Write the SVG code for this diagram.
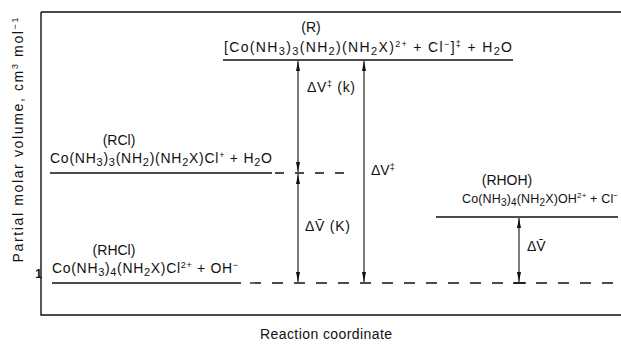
<svg xmlns="http://www.w3.org/2000/svg" width="621" height="344" viewBox="0 0 621 344">
<style>
text{font-family:"Liberation Sans","DejaVu Sans",Arial,sans-serif;font-size:14px;fill:#111}
.lbl{text-anchor:middle}
.ln{stroke:#111;stroke-width:1.4;fill:none}
.dash{stroke:#111;stroke-width:1.3;fill:none;stroke-dasharray:11 11}
.arr{stroke:#111;stroke-width:1.1;fill:none;marker-start:url(#ah);marker-end:url(#ah)}
</style>
<defs>
<marker id="ah" viewBox="0 0 10 4" refX="10" refY="2" markerWidth="10" markerHeight="4" markerUnits="userSpaceOnUse" orient="auto-start-reverse">
<path d="M0,0 L10,2 L0,4 z" fill="#111"/>
</marker>
</defs>
<rect width="621" height="344" fill="#fff"/>
<g id="frame">
<path class="ln" d="M41,12 H621 M41,12 V315 H621"/>
<text x="42" y="278" style="font-weight:bold;font-size:12px;text-anchor:end">1</text>
<text transform="translate(23,140) rotate(-90)" class="lbl" textLength="245" lengthAdjust="spacing">Partial molar volume, cm<tspan dy="-5" font-size="9">3</tspan><tspan dy="5"> mol</tspan><tspan dy="-5" font-size="9">−1</tspan></text>
<text x="260" y="339" textLength="132" lengthAdjust="spacing">Reaction coordinate</text>
</g>
<g id="R">
<path class="ln" d="M223,60 H513"/>
<text x="311" y="32" class="lbl">(R)</text>
<text x="224" y="52" textLength="288" lengthAdjust="spacing">[Co(NH<tspan dy="3" font-size="11">3</tspan><tspan dy="-3">)</tspan><tspan dy="3" font-size="11">3</tspan><tspan dy="-3">(NH</tspan><tspan dy="3" font-size="11">2</tspan><tspan dy="-3">)(NH</tspan><tspan dy="3" font-size="11">2</tspan><tspan dy="-3">X)</tspan><tspan dy="-5" font-size="9">2+</tspan><tspan dy="5"> + Cl</tspan><tspan dy="-5" font-size="9">−</tspan><tspan dy="5">]</tspan><tspan dy="-5" font-size="9">‡</tspan><tspan dy="5"> + H</tspan><tspan dy="3" font-size="11">2</tspan><tspan dy="-3">O</tspan></text>
</g>
<g id="RCl">
<path class="ln" d="M50,173 H272"/>
<text x="119" y="145" class="lbl">(RCl)</text>
<text x="50" y="163" textLength="222" lengthAdjust="spacing">Co(NH<tspan dy="3" font-size="11">3</tspan><tspan dy="-3">)</tspan><tspan dy="3" font-size="11">3</tspan><tspan dy="-3">(NH</tspan><tspan dy="3" font-size="11">2</tspan><tspan dy="-3">)(NH</tspan><tspan dy="3" font-size="11">2</tspan><tspan dy="-3">X)Cl</tspan><tspan dy="-5" font-size="9">+</tspan><tspan dy="5"> + H</tspan><tspan dy="3" font-size="11">2</tspan><tspan dy="-3">O</tspan></text>
</g>
<g id="RHCl">
<path class="ln" d="M52,283 H241"/>
<text x="114" y="255" class="lbl">(RHCl)</text>
<text x="52" y="273" textLength="186" lengthAdjust="spacing">Co(NH<tspan dy="3" font-size="11">3</tspan><tspan dy="-3">)</tspan><tspan dy="3" font-size="11">4</tspan><tspan dy="-3">(NH</tspan><tspan dy="3" font-size="11">2</tspan><tspan dy="-3">X)Cl</tspan><tspan dy="-5" font-size="9">2+</tspan><tspan dy="5"> + OH</tspan><tspan dy="-5" font-size="9">−</tspan></text>
</g>
<g id="RHOH">
<path class="ln" d="M436,217 H618"/>
<text x="507" y="185" class="lbl">(RHOH)</text>
<text x="462" y="203" style="font-size:12.5px" textLength="156" lengthAdjust="spacing">Co(NH<tspan dy="3" font-size="10">3</tspan><tspan dy="-3">)</tspan><tspan dy="3" font-size="10">4</tspan><tspan dy="-3">(NH</tspan><tspan dy="3" font-size="10">2</tspan><tspan dy="-3">X)OH</tspan><tspan dy="-5" font-size="8">2+</tspan><tspan dy="5"> + Cl</tspan><tspan dy="-5" font-size="8">−</tspan></text>
</g>
<g id="connectors">
<path class="dash" d="M275,173 H345" style="stroke-dasharray:9 11"/>
<path class="dash" d="M250,283 H615"/>
<path class="ln" d="M513,283 H526"/>
<path class="arr" d="M298,61 V172"/>
<path class="arr" d="M298,174 V282"/>
<path class="arr" d="M364,61 V282"/>
<path class="arr" d="M519,218 V282"/>
<text x="307" y="92" textLength="48" lengthAdjust="spacing">ΔV<tspan dy="-5" font-size="9">‡</tspan><tspan dy="5"> (k)</tspan></text>
<text x="371" y="175">ΔV<tspan dy="-5" font-size="9">‡</tspan></text>
<text x="305" y="231" textLength="45" lengthAdjust="spacing">ΔV̄ (K)</text>
<text x="527" y="251">ΔV̄</text>
</g>
</svg>
